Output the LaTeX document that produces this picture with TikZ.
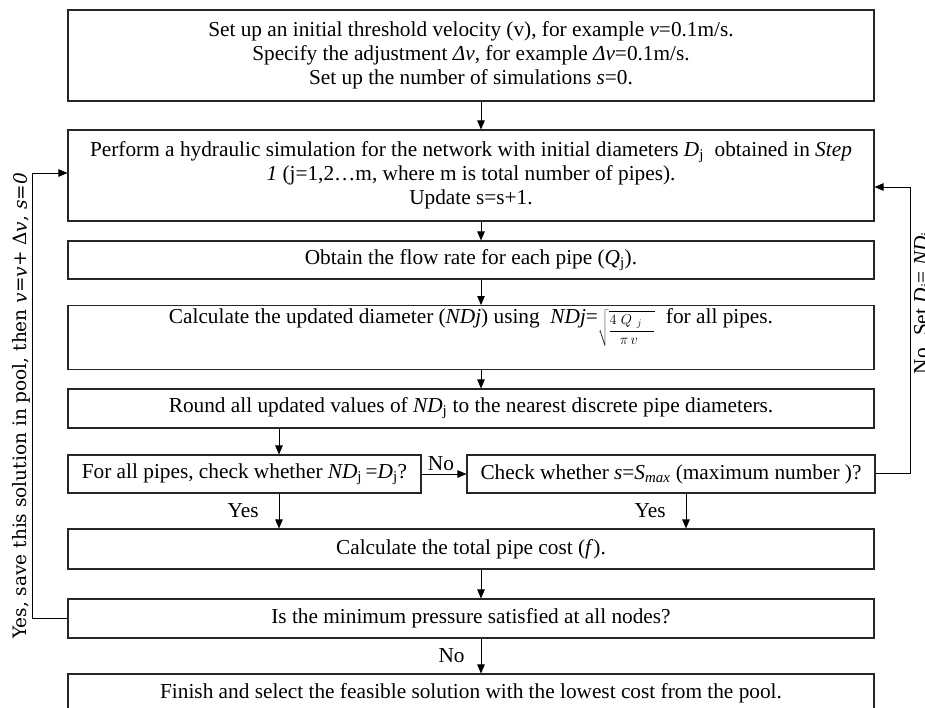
\documentclass[tikz,border=0pt]{standalone}
\usepackage{fontspec}
\setmainfont{Liberation Serif}
\newfontfamily\loopfont{DejaVu Serif}
\usetikzlibrary{arrows.meta}

\begin{document}
\begin{tikzpicture}[x=1pt,y=-1pt,
  box/.style={draw=black!85, line width=1.1pt, inner sep=0pt, align=center,
    font=\fontsize{21.3}{24}\selectfont},
  arr/.style={-{Triangle[length=9pt,width=7.5pt]}, line width=0.8pt},
  lbl/.style={font=\fontsize{21.3}{24}\selectfont, inner sep=0pt}]
\useasboundingbox (0,0) rectangle (925,707);
\fill[white] (0,0) rectangle (925,707);

% main column of process boxes
\node[box, minimum width=806, minimum height=91] (b1) at (471,55.5)
  {Set up an initial threshold velocity (v), for example \textit{v}=0.1m/s.\\
   Specify the adjustment \textit{Δv}, for example \textit{Δv}=0.1m/s.\\
   Set up the number of simulations \textit{s}=0.};
\node[box, minimum width=806, minimum height=91] (b2) at (471,175.5)
  {Perform a hydraulic simulation for the network with initial diameters \textit{D}\textsubscript{j}\ \ obtained in \textit{Step}\\
   \textit{1} (j=1,2…m, where m is total number of pipes).\\
   Update s=s+1.};
\node[box, minimum width=806, minimum height=38] (b3) at (471,260)
  {Obtain the flow rate for each pipe (\textit{Q}\textsubscript{j}).};
% the formula line sits in the upper part of this box
\node[box, minimum width=806, text height=18pt, text depth=46pt, anchor=north] (b4) at (471,305)
  {Calculate the updated diameter (\textit{NDj}) using \ \textit{NDj}=\raisebox{-11pt}{\fontsize{14}{14}\selectfont$\displaystyle\sqrt{\frac{4\hspace{4pt}Q_{\hspace{5pt}j}\hspace{12pt}}{\pi\,v\hspace{6pt}}}$}\ \ for all pipes.};
\node[box, minimum width=806, minimum height=39] (b5) at (471,408.5)
  {Round all updated values of \textit{ND}\textsubscript{j} to the nearest discrete pipe diameters.};
\node[box, minimum width=353, minimum height=38] (b6l) at (244.5,474)
  {For all pipes, check whether \textit{ND}\textsubscript{j}\,=\textit{D}\textsubscript{j}?};
\node[box, minimum width=408, minimum height=38] (b6r) at (671,474)
  {Check whether \textit{s}=\textit{S}\textsubscript{\textit{max}} (maximum number )?};
\node[box, minimum width=806, minimum height=40] (b7) at (471,549)
  {Calculate the total pipe cost (\textit{f}).};
\node[box, minimum width=806, minimum height=39] (b8) at (471,618.5)
  {Is the minimum pressure satisfied at all nodes?};
\node[box, minimum width=806, minimum height=38] (b9) at (471,693)
  {Finish and select the feasible solution with the lowest cost from the pool.};

% arrow columns and loop corners
\coordinate (cm) at (481,0);
\coordinate (cl) at (279,0);
\coordinate (cr) at (686,0);
\coordinate (lt) at (32,173);
\coordinate (rt) at (910,187);

\draw[arr] (b1.south -| cm) -- (b2.north -| cm);
\draw[arr] (b2.south -| cm) -- (b3.north -| cm);
\draw[arr] (b3.south -| cm) -- (b4.north -| cm);
\draw[arr] (b4.south -| cm) -- (b5.north -| cm);
\draw[arr] (b5.south -| cl) -- (b6l.north -| cl);
\draw[arr] (b6l.east) -- (b6r.west) node[lbl, midway, above=3pt, xshift=-3pt] (no1) {No};
\draw[arr] (b6l.south -| cl) -- (b7.north -| cl) node[lbl, midway, left=20pt] (yes1) {Yes};
\draw[arr] (b6r.south -| cr) -- (b7.north -| cr) node[lbl, midway, left=20pt] (yes2) {Yes};
\draw[arr] (b7.south -| cm) -- (b8.north -| cm);
\draw[arr] (b8.south -| cm) -- (b9.north -| cm) node[lbl, midway, left=16pt] (no2) {No};

% feedback loops
\draw[arr] (b8.west) -| (lt) -- (lt -| b2.west);
\draw[arr] ([yshift=1pt]b6r.east) -| (rt) -- (rt -| b2.east);

\node[inner sep=0pt, font=\loopfont\fontsize{18.5}{22}\selectfont, rotate=90, anchor=base] (yesloop) at (27,406)
  {Yes, save this solution in pool, then \textit{v}=\textit{v}+ Δ\textit{v}, \textit{s=0}};
\node[lbl, rotate=90, anchor=base] (noloop) at (928,303)
  {No. Set \textit{D}\textsubscript{j}= \textit{ND}\textsubscript{j}};
\end{tikzpicture}
\end{document}
